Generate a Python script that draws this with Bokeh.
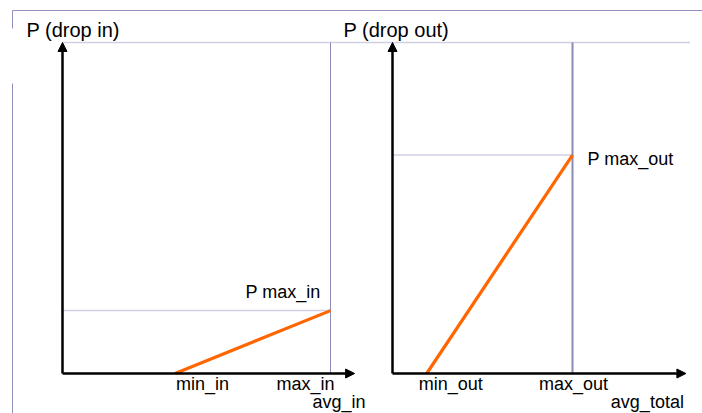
from bokeh.plotting import figure
from bokeh.models import Range1d, Arrow, NormalHead
from bokeh.core.properties import value
from bokeh.embed import file_html
from bokeh.resources import INLINE

# ---- data (normalised units: x as fraction of the max threshold, y as probability) ----
panels = ["in", "out"]
titles = ["P (drop in)", "P (drop out)"]
x_min = [0.42, 0.19]          # min_in, min_out
x_max = [1.0, 1.0]            # max_in, max_out
p_max = [0.19, 0.66]          # P max_in, P max_out
p_top = 1.0
min_labels = ["min_in", "min_out"]
max_labels = ["max_in", "max_out"]
avg_labels = ["avg_in", "avg_total"]
pmax_labels = ["P max_in", "P max_out"]
x_axis_end = [1.09, 1.63]     # where each x-axis arrow ends

# ---- layout ----
W, H = 702, 413
Y0_PX, Y1_PX = 373, 42          # screen rows of y=0 and y=1
X0_PX = [62, 392]               # screen column of x=0 per panel
X1_PX = [330, 572]              # screen column of x=1 per panel

ypu = (Y0_PX - Y1_PX)
y_range = Range1d(-(H - Y0_PX) / ypu, Y0_PX / ypu)

def xr(i):
    s = X1_PX[i] - X0_PX[i]
    return Range1d(-X0_PX[i] / s, (W - X0_PX[i]) / s)

p = figure(width=W, height=H, output_backend="svg", toolbar_location=None,
           x_range=xr(0), y_range=y_range, min_border=0,
           x_axis_type=None, y_axis_type=None)
p.extra_x_ranges = {"out": xr(1), "px": Range1d(0, W)}
p.extra_y_ranges = {"py": Range1d(H, 0)}
p.xgrid.visible = False
p.ygrid.visible = False
p.outline_line_color = None
p.background_fill_color = "white"
p.border_fill_color = "white"

FONT = value("Liberation Sans")
PURPLE = "#8A8AB8"
DOT = "#A0A0C4"
ORANGE = "#FF6600"

# slide frame lines
p.segment(x0=[12, 12, 12], y0=[10, 10, 83], x1=[W, 12, 12], y1=[10, 28, H],
          x_range_name="px", y_range_name="py", line_color="#9090C0", line_width=1)

# top dotted P=1 line across both panels
top_end = (690 - X0_PX[0]) / (X1_PX[0] - X0_PX[0])
p.segment(x0=[0], y0=[p_top], x1=[top_end], y1=[p_top],
          line_color=DOT, line_width=1.5, line_dash="1 1")

rn = ["default", "out"]
for i in range(2):
    r = rn[i]
    # dotted P max line
    p.segment(x0=[0], y0=[p_max[i]], x1=[x_max[i]], y1=[p_max[i]],
              x_range_name=r, line_color=DOT, line_width=1.5, line_dash="1 1")
    # vertical purple line at max
    p.segment(x0=[x_max[i]], y0=[0], x1=[x_max[i]], y1=[p_top],
              x_range_name=r, line_color=PURPLE, line_width=1 if i == 0 else 2)
    # axes arrows
    p.add_layout(Arrow(x_start=0, y_start=0, x_end=0, y_end=p_top, x_range_name=r,
                       line_color="black", line_width=2.5,
                       end=NormalHead(size=9, fill_color="black", line_color="black", line_width=1)))
    p.add_layout(Arrow(x_start=0, y_start=0, x_end=x_axis_end[i], y_end=0, x_range_name=r,
                       line_color="black", line_width=2.5,
                       end=NormalHead(size=9, fill_color="black", line_color="black", line_width=1)))
    # orange ramp
    p.line(x=[x_min[i], x_max[i]], y=[0, p_max[i]], x_range_name=r,
           line_color=ORANGE, line_width=3.2)

# titles
p.text(x=[26, 343], y=[29, 29], text=titles, x_range_name="px", y_range_name="py",
       text_font=FONT, text_font_size="20px", text_color="black",
       text_align="left", text_baseline="alphabetic")

# left panel labels
p.text(x=[x_min[0], x_max[0], x_max[0], x_max[0]],
       y=[0, 0, 0, p_max[0]],
       text=[min_labels[0], max_labels[0], avg_labels[0], pmax_labels[0]],
       x_offset=[1, 4, -18, -10], y_offset=[10, 10, 28, -19],
       text_align=["left", "right", "left", "right"],
       text_font=FONT, text_font_size="18px", text_color="black",
       text_baseline="alphabetic")

# right panel labels
p.text(x=[x_min[1], x_max[1], x_axis_end[1], x_max[1]],
       y=[0, 0, 0, p_max[1]],
       text=[min_labels[1], max_labels[1], avg_labels[1], pmax_labels[1]],
       x_offset=[-8, 1, -2, 15], y_offset=[10, 10, 28, 4],
       text_align=["left", "center", "right", "left"],
       x_range_name="out",
       text_font=FONT, text_font_size="18px", text_color="black",
       text_baseline="alphabetic")

open("out.html", "w").write(file_html(p, INLINE))
